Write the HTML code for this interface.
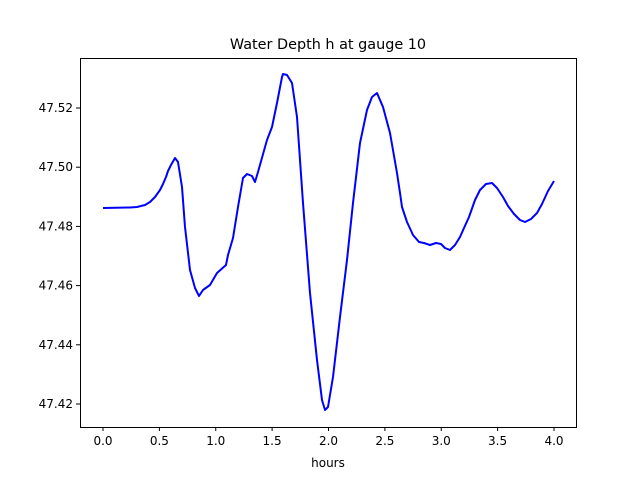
<!DOCTYPE html>
<html><head><meta charset="utf-8"><style>body{margin:0;background:#fff}svg{display:block}text{font-family:"DejaVu Sans","Liberation Sans",sans-serif;font-size:12px;fill:#000}</style></head><body>
<svg width="640" height="480" xmlns="http://www.w3.org/2000/svg">
<rect x="0" y="0" width="640" height="480" fill="#fff"/>
<polyline fill="none" stroke="#0000ff" stroke-width="2" stroke-linejoin="round" points="103,208 130,207.5 137,207 145,205 150,202 155,197 160,190 163,184 166,177 168,171 171,165 175,158 178,162 182,187 185,227 190,270 195,288 199,296 203,290 210,285 217,273 226,265 228,255 233,238 238,207 243,178 247,174 252,176 255,182 258,172 267,140 272,127 277,103 282,77 283,74 287,75 292,83 297,117 303,203 310,293 317,360 322,400 325,410 328,407 333,377 340,317 347,260 353,203 360,143 367,110 372,97 377,93 383,107 390,133 397,173 400,193 402,207 407,222 413,235 419,242 424,243 430,245 436,243 441,244 445,248 450,250 455,245 460,237 464,228 469,217 475,200 480,190 486,184 492,183 497,188 503,197 508,206 514,214 520,220 525,222 531,219 537,213 542,204 548,191 554,181"/>
<rect x="80.5" y="58.5" width="496" height="369" fill="none" stroke="#000" stroke-width="1"/>
<g stroke="#000" stroke-width="1">
<line x1="103" y1="427" x2="103" y2="431"/><line x1="159.4" y1="427" x2="159.4" y2="431"/><line x1="215.75" y1="427" x2="215.75" y2="431"/><line x1="272.1" y1="427" x2="272.1" y2="431"/><line x1="328.5" y1="427" x2="328.5" y2="431"/><line x1="384.9" y1="427" x2="384.9" y2="431"/><line x1="441.25" y1="427" x2="441.25" y2="431"/><line x1="497.6" y1="427" x2="497.6" y2="431"/><line x1="554" y1="427" x2="554" y2="431"/>
<line x1="76" y1="108" x2="80" y2="108"/><line x1="76" y1="167.2" x2="80" y2="167.2"/><line x1="76" y1="226.4" x2="80" y2="226.4"/><line x1="76" y1="285.6" x2="80" y2="285.6"/><line x1="76" y1="344.8" x2="80" y2="344.8"/><line x1="76" y1="404" x2="80" y2="404"/>
</g>
<g text-anchor="middle">
<text x="103" y="445">0.0</text><text x="159.4" y="445">0.5</text><text x="215.75" y="445">1.0</text><text x="272.1" y="445">1.5</text><text x="328.5" y="445">2.0</text><text x="384.9" y="445">2.5</text><text x="441.25" y="445">3.0</text><text x="497.6" y="445">3.5</text><text x="554" y="445">4.0</text>
<text x="328" y="467">hours</text>
<text x="328" y="49" style="font-size:14.4px">Water Depth h at gauge 10</text>
</g>
<g text-anchor="end">
<text x="73" y="112">47.52</text><text x="73" y="171.2">47.50</text><text x="73" y="230.4">47.48</text><text x="73" y="289.6">47.46</text><text x="73" y="348.8">47.44</text><text x="73" y="408">47.42</text>
</g>
</svg>
</body></html>
